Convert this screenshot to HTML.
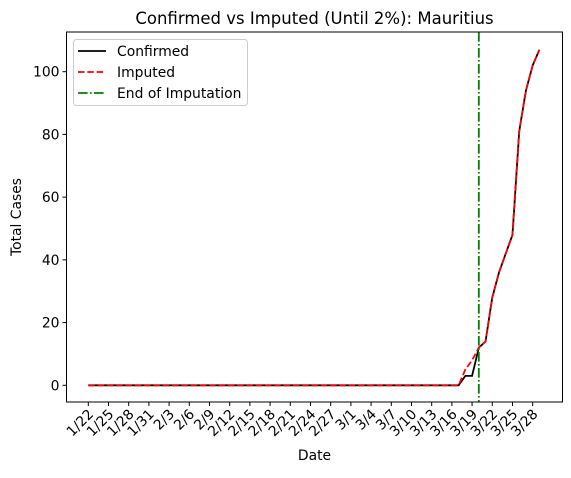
<!DOCTYPE html>
<html><head><meta charset="utf-8"><style>
body{margin:0;background:#fff;}
svg text{font-family:"DejaVu Sans","Liberation Sans",sans-serif;fill:#000;}
</style></head><body>
<svg id="chart" width="571" height="473" xmlns="http://www.w3.org/2000/svg"></svg>
<script>
const dates=[];(function(){const m=[31,29,31];let mo=1,d=22;for(let i=0;i<68;i++){dates.push(mo+'/'+d);d++;if(d>m[mo-1]){d=1;mo++;}}})();
const confirmed=[0,0,0,0,0,0,0,0,0,0,0,0,0,0,0,0,0,0,0,0,0,0,0,0,0,0,0,0,0,0,0,0,0,0,0,0,0,0,0,0,0,0,0,0,0,0,0,0,0,0,0,0,0,0,0,0,3,3,12,14,28,36,42,48,81,94,102,107];
const imputed=[0,0,0,0,0,0,0,0,0,0,0,0,0,0,0,0,0,0,0,0,0,0,0,0,0,0,0,0,0,0,0,0,0,0,0,0,0,0,0,0,0,0,0,0,0,0,0,0,0,0,0,0,0,0,0,0,5,8,12,14,28,36,42,48,81,94,102,107];
const endIndex=58;
const yTicks=[0,20,40,60,80,100];
const L=66.5,R=562.5,T=32,B=402;
const X=i=>88.3+i*6.733;
const Y=v=>385.3-v*3.136;
const svg=document.getElementById('chart');const NS='http://www.w3.org/2000/svg';
function mk(t,a,p){const e=document.createElementNS(NS,t);for(const k in a)e.setAttribute(k,a[k]);(p||svg).appendChild(e);return e;}
let e;
e=mk('text',{x:(L+R)/2,y:24,'text-anchor':'middle','font-size':16.5});e.textContent='Confirmed vs Imputed (Until 2%): Mauritius';


e=mk('text',{x:(L+R)/2,y:460,'text-anchor':'middle','font-size':13.9});e.textContent='Date';


e=mk('text',{x:0,y:0,'text-anchor':'middle','font-size':13.9,transform:'translate(21,'+(T+B)/2+') rotate(-90)'});e.textContent='Total Cases';


yTicks.forEach(v=>{mk('line',{x1:L-4,x2:L,y1:Y(v),y2:Y(v),stroke:'#000'});
e=mk('text',{x:L-7,y:Y(v)+5,'text-anchor':'end','font-size':13.9});e.textContent=v;

});
for(let i=0;i<dates.length;i+=3){mk('line',{x1:X(i),x2:X(i),y1:B,y2:B+4,stroke:'#000'});
e=mk('text',{x:0,y:0,'text-anchor':'end','font-size':13.9,transform:'translate('+(X(i)+6)+','+(B+13)+') rotate(-45)'});e.textContent=dates[i];

}
const pts=a=>a.map((v,i)=>X(i)+','+Y(v)).join(' ');
e=mk('polyline',{points:pts(confirmed),fill:'none',stroke:'#000','stroke-width':1.8});


e=mk('polyline',{points:pts(imputed),fill:'none',stroke:'#f00','stroke-width':1.8,'stroke-dasharray':'6.5,2.8'});


e=mk('line',{x1:X(endIndex),x2:X(endIndex),y1:T,y2:B,stroke:'#008000','stroke-width':1.8,'stroke-dasharray':'9.6,2.4,1.6,2.4'});


mk('rect',{x:L,y:T,width:R-L,height:B-T,fill:'none',stroke:'#000','stroke-width':1});
const lg=mk('g',{});


mk('rect',{x:73.5,y:39.5,width:174,height:66,rx:3,fill:'#fff',stroke:'#ccc'},lg);
[['Confirmed','#000','none',51],['Imputed','#f00','6.5,2.8',72],['End of Imputation','#008000','9.6,2.4,1.6,2.4',93]].forEach(r=>{
mk('line',{x1:78,x2:106,y1:r[3],y2:r[3],stroke:r[1],'stroke-width':1.8,'stroke-dasharray':r[2]},lg);
const t=mk('text',{x:117,y:r[3]+5,'font-size':13.9},lg);t.textContent=r[0];

});
</script>
</body></html>
